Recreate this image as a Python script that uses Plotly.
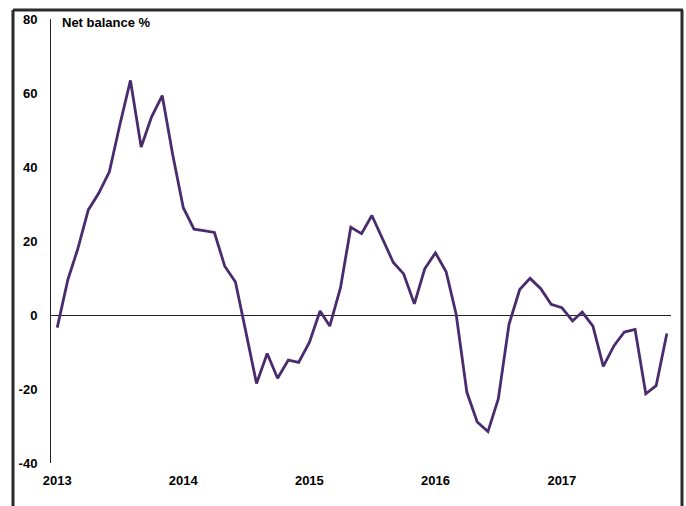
import plotly.graph_objects as go

# Monthly survey net balance, Jan 2013 - Nov 2017
years = [2013, 2014, 2015, 2016, 2017]
months = [f"{y}-{m:02d}-01" for y in years for m in range(1, 13)][:59]

net_balance = [
    -3.4, 9.6, 17.7, 28.4, 32.9, 38.7, 51.3, 63.4, 45.4, 53.5, 59.3, 43.5,
    29.0, 23.2, 22.8, 22.3, 13.2, 8.9, -4.5, -18.5, -10.4, -17.1, -12.2, -12.8,
    -7.4, 1.1, -3.0, 7.3, 23.7, 22.0, 26.9, 20.3, 14.2, 11.1, 3.0, 12.5,
    16.8, 11.7, 0.2, -20.9, -28.9, -31.5, -22.7, -2.5, 6.9, 9.9, 7.1, 2.9,
    2.0, -1.6, 0.8, -3.0, -13.9, -8.3, -4.6, -3.9, -21.3, -19.1, -5.0,
]

year_ticks = [f"{y}-01-01" for y in years]
year_labels = [str(y) for y in years]
y_ticks = [-40, -20, 0, 20, 40, 60, 80]

W, H = 686, 506
L, R, T, B = 51, 15, 16, 43
pw, ph = W - L - R, H - T - B

def px_x(x):
    return (x - L) / pw

def px_y(y):
    return (H - B - y) / ph

FONT = "Liberation Sans, Arial, sans-serif"

fig = go.Figure()
fig.add_trace(go.Scatter(
    x=months, y=net_balance, mode="lines",
    line=dict(color="#4a2c6e", width=2.8),
    hoverinfo="skip", showlegend=False,
))

frame = dict(color="#2a2a2a", width=3)
fig.add_shape(type="line", xref="paper", yref="paper",
              x0=px_x(13), x1=px_x(683), y0=px_y(7), y1=px_y(7), line=frame)
fig.add_shape(type="line", xref="paper", yref="paper",
              x0=px_x(13), x1=px_x(13), y0=px_y(7), y1=px_y(520), line=frame)
fig.add_shape(type="line", xref="paper", yref="paper",
              x0=px_x(682), x1=px_x(682), y0=px_y(7), y1=px_y(520), line=frame)

fig.add_annotation(text="<b>Net balance %</b>", xref="paper", yref="paper",
                   x=px_x(60), y=px_y(20), xanchor="left", yanchor="middle",
                   showarrow=False, font=dict(family=FONT, size=13, color="#000"))

fig.update_layout(
    width=W, height=H,
    margin=dict(l=L, r=R, t=T, b=B, pad=0),
    paper_bgcolor="white", plot_bgcolor="white",
    font=dict(family=FONT, size=13, color="#000"),
    xaxis=dict(
        type="date", range=["2012-12-14", "2017-11-13"],
        tickvals=year_ticks, ticktext=[f"<b>{t}</b>" for t in year_labels],
        showgrid=False, zeroline=False, showline=False,
        ticks="outside", ticklen=5, tickcolor="rgba(0,0,0,0)",
        tickfont=dict(family=FONT, size=13, color="#000"),
    ),
    yaxis=dict(
        range=[-40, 80], tickvals=y_ticks,
        ticktext=[f"<b>{v}</b>" for v in y_ticks],
        showgrid=False, zeroline=True, zerolinecolor="#222", zerolinewidth=1,
        showline=True, linecolor="#222", linewidth=1,
        ticks="outside", ticklen=10, tickcolor="rgba(0,0,0,0)",
        tickfont=dict(family=FONT, size=13, color="#000"),
    ),
)

fig.write_html("out.html")
